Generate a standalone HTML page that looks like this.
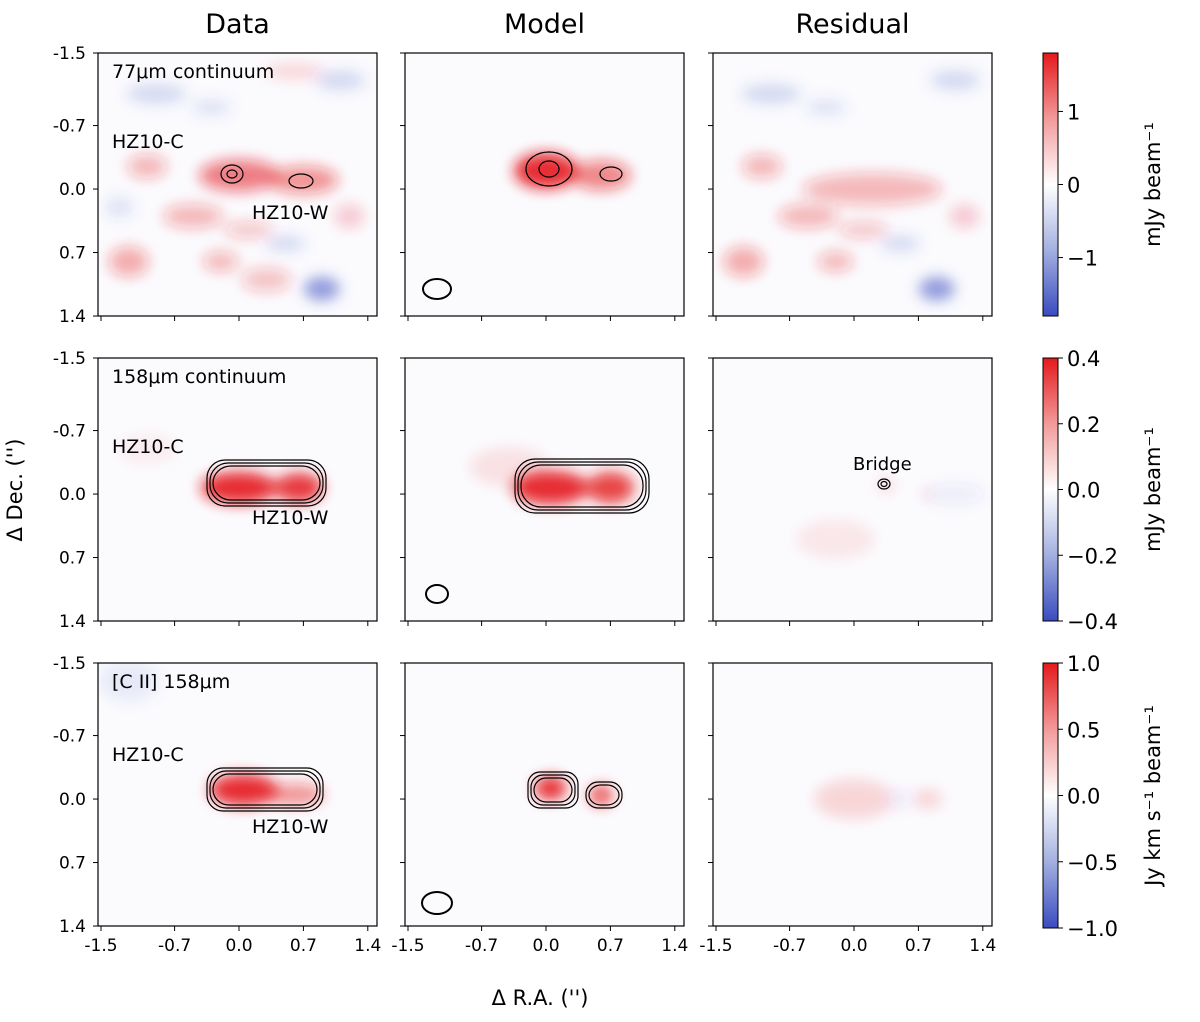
<!DOCTYPE html>
<html><head><meta charset="utf-8"><style>
body{margin:0;background:#fff;font-family:"Liberation Sans","DejaVu Sans",sans-serif}
svg text{font-family:"DejaVu Sans","Liberation Sans",sans-serif}
</style></head><body>
<svg id="fig" width="1200" height="1017" viewBox="0 0 1200 1017" xmlns="http://www.w3.org/2000/svg">
<defs>
<filter id="blurS" x="-50%" y="-50%" width="200%" height="200%"><feGaussianBlur stdDeviation="7"/></filter>
<linearGradient id="cmap" x1="0" y1="1" x2="0" y2="0">
<stop offset="0" stop-color="#3a4cc0"/><stop offset="0.25" stop-color="#a3b0e0"/><stop offset="0.5" stop-color="#ffffff"/><stop offset="0.75" stop-color="#f29a9a"/><stop offset="1" stop-color="#e41a1c"/>
</linearGradient>
</defs>
<g id="root"></g>
</svg>
<script>
const NS="http://www.w3.org/2000/svg";
const root=document.getElementById('root');
const colLeft=[98,405,713];
const rowTop=[53,358,663];
const panelW=279, panelH=263;
const tickVals=[-1.5,-0.7,0.0,0.7,1.4];
const tickLabels=["-1.5","-0.7","0.0","0.7","1.4"];
const colTitles=["Data","Model","Residual"];
const rowLabels=["77\u03bcm continuum","158\u03bcm continuum","[C II] 158\u03bcm"];
// sources: [ra, dec, amplitude, sigma px x, sigma px y]
const srcRow1Data=[[0.0,-0.15,0.55,40,16],[0.7,-0.1,0.45,35,14],[-1.0,-0.25,0.3,20,12],[-0.5,0.3,0.3,30,12],[-1.2,0.8,0.35,20,15],[0.9,1.1,-0.55,18,12],[1.1,-1.2,-0.2,25,10],[-0.9,-1.05,-0.2,30,10],[0.3,1.0,0.25,25,12],[-0.2,0.8,0.3,18,10],[0.5,0.6,-0.2,20,8],[1.2,0.3,0.2,15,12],[-0.3,-0.9,-0.15,20,8],[0.6,-1.3,0.15,30,8],[-1.3,0.2,-0.15,15,10],[0.1,0.45,0.25,25,8]];
const srcRow1Model=[[0.0,-0.2,0.9,32,18],[0.6,-0.15,0.5,30,15]];
const srcRow1Resid=[[0.2,0.0,0.3,70,16],[-1.0,-0.25,0.3,20,12],[-0.5,0.3,0.3,30,12],[0.9,1.1,-0.55,18,12],[-1.2,0.8,0.35,20,15],[1.1,-1.2,-0.2,25,10],[-0.2,0.8,0.3,18,10],[0.5,0.6,-0.2,20,8],[1.2,0.3,0.2,15,12],[-0.3,-0.9,-0.15,20,8],[-0.9,-1.05,-0.2,30,10],[0.1,0.45,0.25,25,8]];
const srcRow2Data=[[0.0,-0.07,0.9,38,16],[0.65,-0.07,0.85,24,15],[-1.0,-0.5,0.06,30,15]];
const srcRow2Model=[[0.05,-0.07,0.9,38,17],[0.7,-0.07,0.8,24,16],[-0.4,-0.3,0.1,40,20]];
const srcRow2Resid=[[0.35,-0.1,0.15,8,8],[0.8,0.0,0.12,6,6],[-0.2,0.5,0.08,40,20],[1.1,0.0,-0.08,30,10]];
const srcRow3Data=[[0.05,-0.1,0.9,34,16],[0.6,-0.05,0.45,30,11],[-1.2,-1.3,-0.1,30,20]];
const srcRow3Model=[[0.05,-0.12,0.9,16,12],[0.6,-0.04,0.75,12,10]];
const srcRow3Resid=[[0.0,0.0,0.15,40,20],[0.8,0.0,0.15,15,10],[0.5,0.0,-0.12,8,8]];
const sources=[[srcRow1Data,srcRow1Model,srcRow1Resid],[srcRow2Data,srcRow2Model,srcRow2Resid],[srcRow3Data,srcRow3Model,srcRow3Resid]];
const cbTicks=[[1,0,-1],[0.4,0.2,0.0,-0.2,-0.4],[1.0,0.5,0.0,-0.5,-1.0]];
const cbTickLabels=[["1","0","\u22121"],["0.4","0.2","0.0","\u22120.2","\u22120.4"],["1.0","0.5","0.0","\u22120.5","\u22121.0"]];
const cbMax=[1.8,0.4,1.0];
const cbTitles=["mJy beam\u207b\u00b9","mJy beam\u207b\u00b9","Jy km s\u207b\u00b9 beam\u207b\u00b9"];
function xs(c,v){return colLeft[c]+3+(v+1.5)*92;}
function ys(r,v){return rowTop[r]+(v+1.5)*90.7;}
function el(tag,attrs,parent){const e=document.createElementNS(NS,tag);for(const k in attrs)e.setAttribute(k,attrs[k]);(parent||root).appendChild(e);return e;}
function col(a){return a>=0?`rgba(228,26,28,${Math.min(1,a)})`:`rgba(58,76,192,${Math.min(1,-a)})`;}
for(let r=0;r<3;r++){for(let c=0;c<3;c++){
  const g=el('g',{});
  
  
  const cp=el('clipPath',{id:`cp${r}${c}`},g);
  el('rect',{x:colLeft[c],y:rowTop[r],width:panelW,height:panelH},cp);
  el('rect',{x:colLeft[c],y:rowTop[r],width:panelW,height:panelH,fill:'#fbfbfe'},g);
  const ig=el('g',{'clip-path':`url(#cp${r}${c})`},g);
  const fg=el('g',{filter:'url(#blurS)'},ig);
  sources[r][c].forEach(s=>{
    const e=el('ellipse',{cx:xs(c,s[0]),cy:ys(r,s[1]),rx:s[3],ry:s[4],fill:col(s[2])},fg);
    
    
  });
  el('rect',{x:colLeft[c],y:rowTop[r],width:panelW,height:panelH,fill:'none',stroke:'#000','stroke-width':1.2},g);
  if(c===0){tickVals.forEach((v,i)=>{const y=ys(r,v);el('line',{x1:colLeft[c]-5,x2:colLeft[c],y1:y,y2:y,stroke:'#000'},g);
    const t=el('text',{x:colLeft[c]-12,y:y+6,'text-anchor':'end','font-size':17},g);t.textContent=tickLabels[i];
    });}
  else{tickVals.forEach(v=>{const y=ys(r,v);el('line',{x1:colLeft[c]-5,x2:colLeft[c],y1:y,y2:y,stroke:'#000'},g);});}
  tickVals.forEach((v,i)=>{const x=xs(c,v);el('line',{x1:x,x2:x,y1:rowTop[r]+panelH,y2:rowTop[r]+panelH+5,stroke:'#000'},g);
    if(r===2){const t=el('text',{x:x,y:rowTop[r]+panelH+25,'text-anchor':'middle','font-size':17},g);t.textContent=tickLabels[i];
    }});
}}
colTitles.forEach((t,c)=>{const e=el('text',{x:colLeft[c]+panelW/2,y:33,'text-anchor':'middle','font-size':27});e.textContent=t;
 });
rowLabels.forEach((t,r)=>{const e=el('text',{x:112,y:rowTop[r]+25,'font-size':19});e.textContent=t;
 });
[[0,"HZ10-C",112,148,"HZ10-W",252,219],[1,"HZ10-C",112,453,"HZ10-W",252,524],[2,"HZ10-C",112,761,"HZ10-W",252,833]].forEach(a=>{
 let e=el('text',{x:a[2],y:a[3],'font-size':19});e.textContent=a[1];
 e=el('text',{x:a[5],y:a[6],'font-size':19});e.textContent=a[4];});
let b=el('text',{x:853,y:470,'font-size':18});b.textContent="Bridge";
const cg=el('g',{fill:'none',stroke:'#000','stroke-width':1.2});

[[232,174,11,9],[232,174,5,4],[301,181,12,7]].forEach(e=>el('ellipse',{cx:e[0],cy:e[1],rx:e[2],ry:e[3]},cg));
[[549,169,23,17],[549,169,10,8],[611,174,11,7]].forEach(e=>el('ellipse',{cx:e[0],cy:e[1],rx:e[2],ry:e[3]},cg));
[[207,460,119,46],[210,463,113,40],[213,466,107,34]].forEach(e=>el('rect',{x:e[0],y:e[1],width:e[2],height:e[3],rx:18},cg));
[[515,459,134,54],[518,462,128,48],[521,465,122,42]].forEach(e=>el('rect',{x:e[0],y:e[1],width:e[2],height:e[3],rx:20},cg));
[[207,768,116,43],[210,771,110,37],[213,774,104,31]].forEach(e=>el('rect',{x:e[0],y:e[1],width:e[2],height:e[3],rx:16},cg));
[[528,772,50,36],[531,775,44,30],[534,778,38,24],[586,782,36,26],[589,785,30,20]].forEach(e=>el('rect',{x:e[0],y:e[1],width:e[2],height:e[3],rx:12},cg));
el('ellipse',{cx:884,cy:484,rx:6,ry:5},cg);el('ellipse',{cx:884,cy:484,rx:3,ry:2.5},cg);
[[437,289,14,10],[437,594,11,9],[437,903,15,11]].forEach(e=>{const be=el('ellipse',{cx:e[0],cy:e[1],rx:e[2],ry:e[3],fill:'none',stroke:'#000','stroke-width':2});
 });
let t=el('text',{x:540,y:1005,'text-anchor':'middle','font-size':21});t.textContent="\u0394 R.A. ('')";
t=el('text',{x:0,y:0,'text-anchor':'middle','font-size':21,transform:'translate(22,490) rotate(-90)'});t.textContent="\u0394 Dec. ('')";
for(let r=0;r<3;r++){
 const g=el('g',{});
 const y0=rowTop[r],h=panelH+(r===2?2:0);
 el('rect',{x:1043,y:y0,width:15,height:h,fill:'url(#cmap)',stroke:'#000','stroke-width':1},g);
 cbTicks[r].forEach((v,i)=>{const y=y0+h/2-v/cbMax[r]*h/2;
  el('line',{x1:1058,x2:1063,y1:y,y2:y,stroke:'#000'},g);
  const tt=el('text',{x:1067,y:y+8,'font-size':21},g);tt.textContent=cbTickLabels[r][i];
  });
 const tl=el('text',{x:0,y:0,'text-anchor':'middle','font-size':21,transform:`translate(1160,${y0+h/2}) rotate(-90)`},g);tl.textContent=cbTitles[r];
 
}
</script>
</body></html>
